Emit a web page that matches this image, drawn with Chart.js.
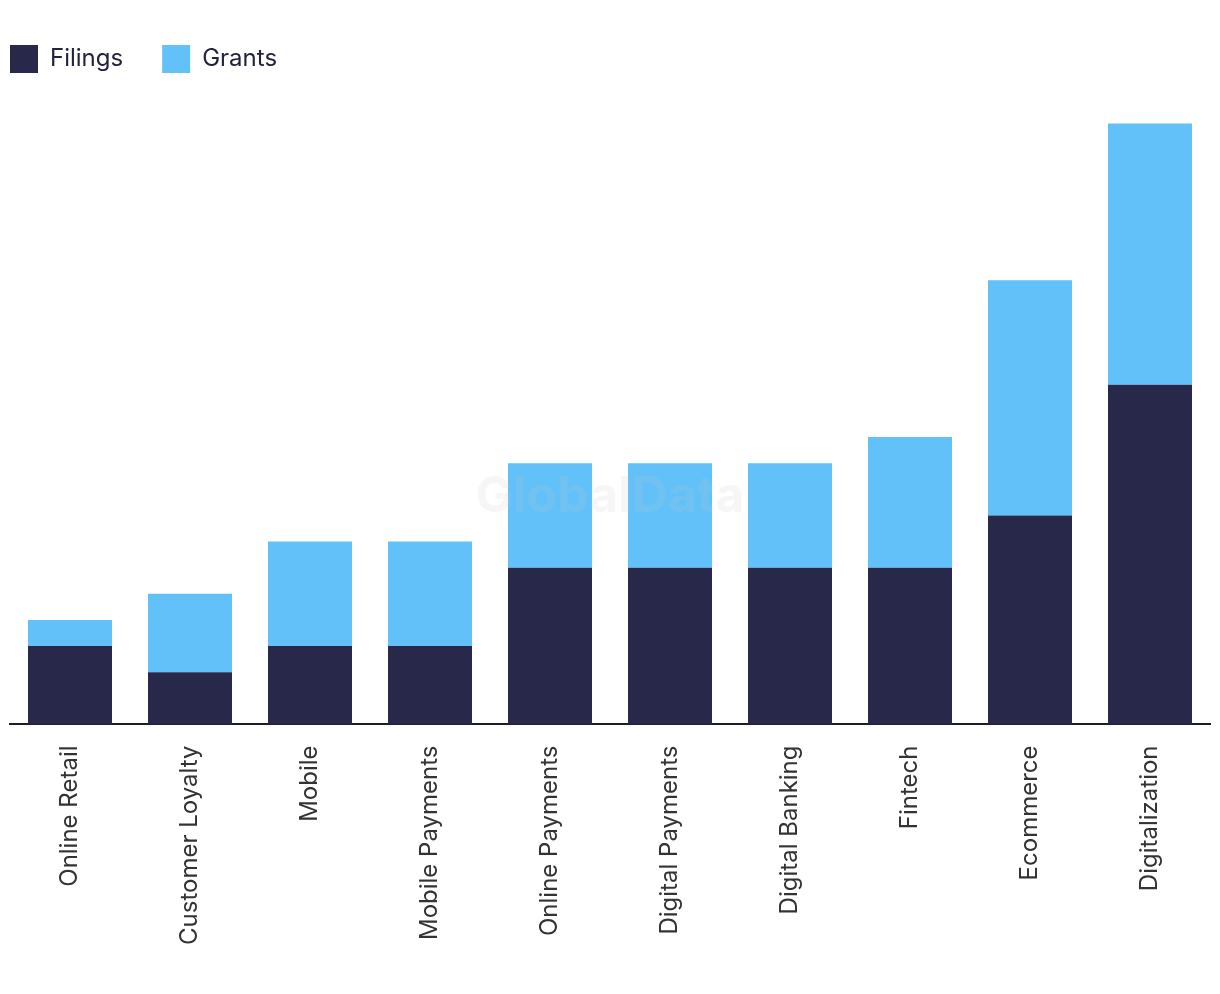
<!DOCTYPE html>
<html>
<head>
<meta charset="utf-8">
<script src="https://cdn.jsdelivr.net/npm/chart.js@4/dist/chart.umd.min.js"></script>
<style>
  html, body { margin: 0; padding: 0; background: #fff; }
  #chart { display: block; }
</style>
</head>
<body>
<canvas id="chart" width="1220" height="994"></canvas>
<script>
const categories = ['Online Retail', 'Customer Loyalty', 'Mobile', 'Mobile Payments', 'Online Payments',
  'Digital Payments', 'Digital Banking', 'Fintech', 'Ecommerce', 'Digitalization'];
const filings = [3, 2, 3, 3, 6, 6, 6, 6, 8, 13];
const grants = [1, 3, 4, 4, 4, 4, 4, 5, 9, 10];

const navy = '#28284b';
const sky = '#62c1f9';

// faint watermark in the middle of the canvas
const watermark = {
  id: 'watermark',
  afterDatasetsDraw(chart) {
    const ctx = chart.ctx;
    ctx.save();
    ctx.font = 'bold 50px Inter, sans-serif';
    ctx.fillStyle = 'rgba(200,200,200,0.16)';
    ctx.textAlign = 'center';
    ctx.textBaseline = 'middle';
    ctx.fillText('GlobalData', chart.width / 2, chart.height / 2);
    ctx.restore();
  }
};

// pull the legend left so the first box lines up with the axis start
const legendShift = {
  id: 'legendShift',
  afterLayout(chart) {
    chart.legend.left = 10 - 39;
  }
};

new Chart(document.getElementById('chart').getContext('2d'), {
  type: 'bar',
  data: {
    labels: categories,
    datasets: [
      { label: 'Filings', data: filings, backgroundColor: navy, barPercentage: 0.7, categoryPercentage: 1 },
      { label: 'Grants', data: grants, backgroundColor: sky, barPercentage: 0.7, categoryPercentage: 1 }
    ]
  },
  options: {
    responsive: false,
    animation: false,
    layout: { padding: { top: 6, right: 10, bottom: 36, left: 0 } },
    plugins: {
      legend: {
        position: 'top',
        align: 'start',
        labels: {
          boxWidth: 28,
          boxHeight: 28,
          padding: 39,
          color: '#22223a',
          font: { family: 'Inter, sans-serif', size: 24 }
        }
      },
      tooltip: { enabled: false }
    },
    scales: {
      x: {
        stacked: true,
        grid: { display: false },
        border: { display: true, color: '#1c1c30', width: 2 },
        ticks: {
          minRotation: 90,
          maxRotation: 90,
          padding: 13,
          color: '#333333',
          font: { family: 'Inter, sans-serif', size: 24 }
        }
      },
      y: {
        stacked: true,
        min: 0,
        max: 24.55,
        grid: { display: false },
        border: { display: false },
        ticks: { display: false },
        afterFit(scale) { scale.width = 10; }
      }
    }
  },
  plugins: [watermark, legendShift]
});
</script>
</body>
</html>
